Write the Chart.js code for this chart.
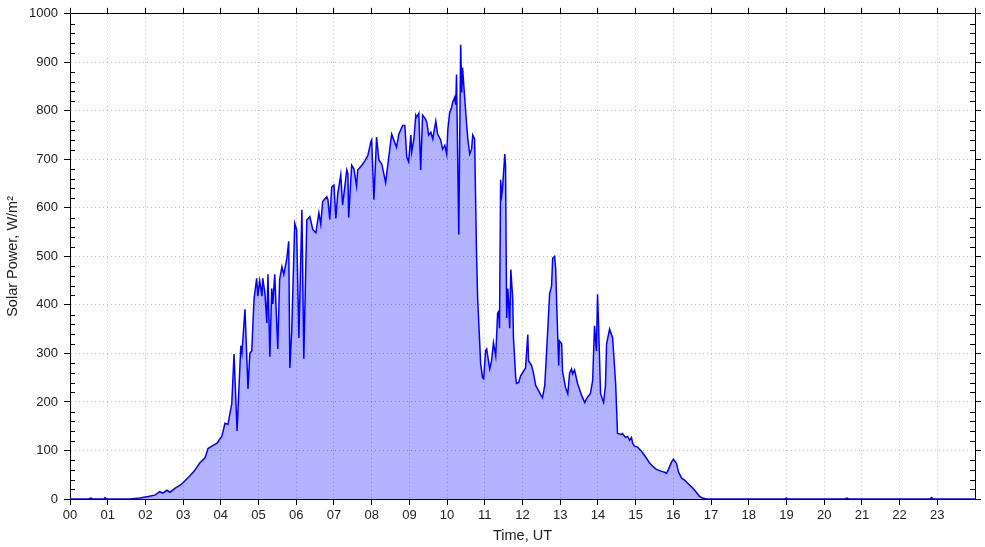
<!DOCTYPE html>
<html>
<head>
<meta charset="utf-8">
<script src="https://cdn.jsdelivr.net/npm/chart.js@4"></script>
<style>
  body { margin: 0; background: #fff; }
</style>
</head>
<body>
<canvas id="solarChart" width="985" height="547"></canvas>
<script>
// time of day in hours (UT) and solar power in W/m2
const hours = [
  0.00, 0.50, 0.55, 0.60, 0.90, 0.93, 0.97, 1.59, 1.85, 2.07, 2.25, 2.38, 2.46, 2.57, 2.65, 2.78, 2.91, 2.99,
  3.18, 3.30, 3.44, 3.58, 3.66, 3.76, 3.90, 4.03, 4.11, 4.19, 4.24, 4.29, 4.35, 4.43, 4.53, 4.56, 4.64, 4.72,
  4.77, 4.82, 4.88, 4.95, 4.98, 5.03, 5.09, 5.11, 5.17, 5.22, 5.25, 5.30, 5.35, 5.38, 5.43, 5.51, 5.56, 5.62,
  5.67, 5.75, 5.80, 5.83, 5.88, 5.96, 6.01, 6.07, 6.15, 6.20, 6.28, 6.36, 6.44, 6.52, 6.60, 6.65, 6.70, 6.81,
  6.84, 6.89, 6.94, 7.00, 7.05, 7.10, 7.18, 7.23, 7.34, 7.37, 7.39, 7.47, 7.53, 7.60, 7.63, 7.74, 7.82, 7.90,
  7.98, 8.00, 8.06, 8.13, 8.19, 8.27, 8.37, 8.48, 8.53, 8.61, 8.66, 8.72, 8.82, 8.88, 8.93, 8.98, 9.04, 9.06,
  9.12, 9.17, 9.19, 9.25, 9.30, 9.35, 9.43, 9.46, 9.51, 9.57, 9.62, 9.70, 9.75, 9.83, 9.88, 9.94, 9.99, 10.02,
  10.07, 10.12, 10.15, 10.20, 10.23, 10.25, 10.31, 10.36, 10.39, 10.41, 10.47, 10.52, 10.55, 10.60, 10.65, 10.68,
  10.73, 10.78, 10.81, 10.89, 10.94, 10.97, 11.02, 11.05, 11.13, 11.18, 11.23, 11.29, 11.34, 11.37, 11.39, 11.42,
  11.45, 11.47, 11.53, 11.55, 11.58, 11.61, 11.63, 11.66, 11.69, 11.74, 11.76, 11.82, 11.84, 11.90, 11.95, 12.00,
  12.08, 12.14, 12.16, 12.24, 12.29, 12.35, 12.40, 12.48, 12.53, 12.59, 12.64, 12.72, 12.77, 12.80, 12.85, 12.88,
  12.91, 12.96, 12.98, 13.04, 13.06, 13.14, 13.20, 13.25, 13.30, 13.33, 13.38, 13.46, 13.57, 13.65, 13.73, 13.80,
  13.86, 13.91, 13.96, 13.99, 14.02, 14.07, 14.15, 14.20, 14.23, 14.31, 14.39, 14.47, 14.52, 14.63, 14.65, 14.73,
  14.79, 14.84, 14.89, 14.92, 14.97, 15.05, 15.16, 15.29, 15.37, 15.45, 15.55, 15.69, 15.77, 15.82, 15.87, 15.95,
  16.00, 16.08, 16.14, 16.22, 16.30, 16.35, 16.43, 16.51, 16.61, 16.69, 16.77, 16.88, 18.95, 19.00, 19.05, 20.55,
  20.60, 20.65, 22.80, 22.85, 22.90, 24.00
];
const power = [
  0, 0, 2, 0, 0, 3, 0, 0, 2, 5, 8, 15, 12, 18, 14, 22, 28, 33,
  48, 58, 74, 85, 104, 109, 115, 130, 156, 154, 176, 196, 299, 140, 316, 301, 391, 227,
  301, 305, 412, 455, 418, 450, 418, 455, 424, 363, 463, 293, 434, 402, 463, 309, 453, 479,
  463, 496, 531, 270, 346, 568, 555, 332, 596, 289, 575, 582, 555, 549, 590, 566, 613, 623,
  617, 576, 643, 647, 578, 629, 668, 606, 678, 670, 580, 688, 680, 645, 678, 688, 697, 708,
  737, 740, 617, 746, 699, 690, 652, 721, 752, 735, 725, 752, 770, 770, 705, 695, 750, 715,
  742, 791, 787, 795, 678, 791, 783, 777, 750, 756, 742, 779, 752, 740, 721, 729, 711, 762,
  797, 807, 818, 828, 813, 875, 545, 936, 838, 889, 824, 770, 742, 711, 721, 750,
  742, 510, 414, 279, 250, 248, 305, 309, 268, 285, 322, 295, 383, 387, 352, 658,
  627, 639, 711, 688, 373, 434, 408, 352, 473, 414, 332, 250, 238, 240, 254, 260,
  270, 339, 285, 275, 260, 234, 227, 215, 209, 234, 305, 424, 438, 496, 500, 475,
  393, 275, 326, 320, 264, 230, 217, 260, 268, 258, 266, 238, 213, 199, 211, 217,
  244, 357, 305, 422, 352, 217, 199, 234, 320, 350, 332, 238, 135, 133, 135, 127,
  129, 121, 127, 115, 109, 107, 98, 84, 74, 68, 61, 57, 55, 53, 61, 76,
  82, 74, 55, 43, 39, 35, 29, 23, 14, 6, 2, 0, 0, 2, 0, 0,
  2, 0, 0, 3, 0, 0
];

const yMax = 1000;
const yStep = 100;
const yMinorStep = 20;

Chart.defaults.font.family = "'Liberation Sans', Arial, sans-serif";
Chart.defaults.font.size = 13;
Chart.defaults.color = "#222";

// small inward ticks on both vertical axes
const minorTicks = {
  id: "minorTicks",
  afterDraw(chart) {
    const ctx = chart.ctx;
    const y = chart.scales.y;
    const area = chart.chartArea;
    ctx.save();
    ctx.strokeStyle = "#000";
    ctx.lineWidth = 1;
    ctx.beginPath();
    for (let v = 0; v <= yMax; v += yMinorStep) {
      if (v % yStep === 0) continue;
      const py = Math.round(y.getPixelForValue(v)) + 0.5;
      ctx.moveTo(area.left, py);
      ctx.lineTo(area.left + 5, py);
      ctx.moveTo(area.right, py);
      ctx.lineTo(area.right - 5, py);
    }
    ctx.stroke();
    ctx.restore();
  }
};

const hourLabel = (v) => (v >= 24 ? null : String(v).padStart(2, "0"));

new Chart("solarChart", {
  type: "line",
  data: {
    datasets: [{
      data: hours.map((h, i) => ({ x: h, y: power[i] })),
      borderColor: "rgb(0,0,255)",
      backgroundColor: "rgba(0,0,255,0.3)",
      borderWidth: 1.5,
      pointRadius: 0,
      tension: 0,
      fill: "origin"
    }]
  },
  options: {
    responsive: false,
    animation: false,
    layout: { padding: 0 },
    plugins: { legend: { display: false }, tooltip: { enabled: false } },
    scales: {
      x: {
        type: "linear",
        position: "bottom",
        min: 0,
        max: 24,
        afterFit: (s) => { s.height = 48; },
        ticks: { stepSize: 1, autoSkip: false, maxRotation: 0, padding: 3, callback: hourLabel },
        grid: { color: "#bbb", tickColor: "#000", tickLength: 6 },
        border: { color: "#000", dash: [1, 3] },
        title: { display: true, text: "Time, UT", font: { size: 14.5 }, padding: { top: 0, bottom: 2 } }
      },
      x2: {
        type: "linear",
        position: "top",
        min: 0,
        max: 24,
        afterFit: (s) => { s.height = 11; },
        ticks: { display: false, stepSize: 1, autoSkip: false },
        grid: { drawOnChartArea: false, tickColor: "#000", tickLength: 6 },
        border: { color: "#000" }
      },
      y: {
        position: "left",
        min: 0,
        max: yMax,
        afterFit: (s) => { s.width = 70; },
        ticks: { stepSize: yStep, padding: 6, callback: (v) => String(v) },
        grid: { color: "#bbb", tickColor: "#000", tickLength: 6 },
        border: { color: "#000", dash: [1, 3] },
        title: { display: true, text: "Solar Power, W/m²", font: { size: 14.5 }, padding: { top: 4, bottom: 0 } }
      },
      y2: {
        position: "right",
        min: 0,
        max: yMax,
        afterFit: (s) => { s.width = 10; },
        ticks: { display: false, stepSize: yStep },
        grid: { drawOnChartArea: false, tickColor: "#000", tickLength: 6 },
        border: { color: "#000" }
      }
    }
  },
  plugins: [minorTicks]
});
</script>
</body>
</html>
